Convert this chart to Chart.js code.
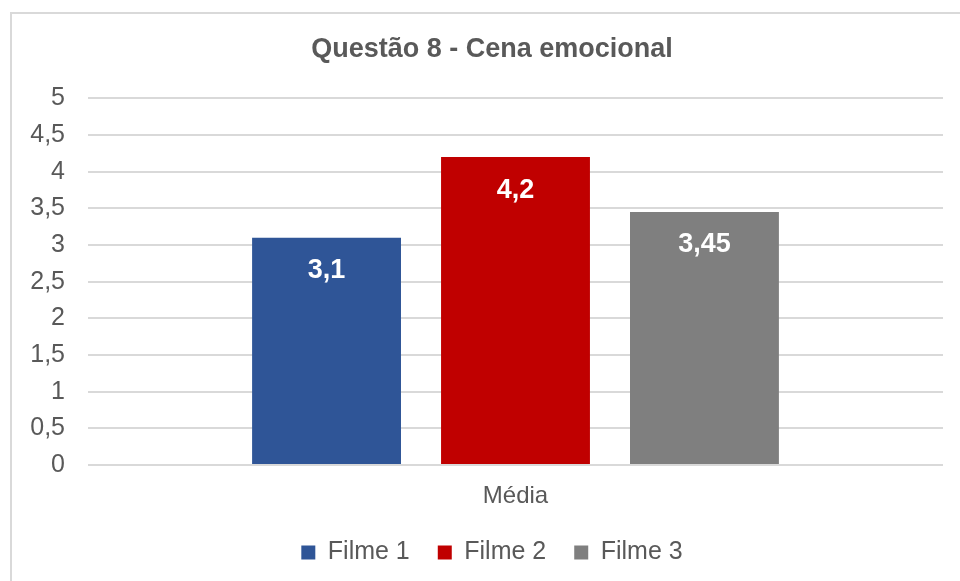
<!DOCTYPE html>
<html>
<head>
<meta charset="utf-8">
<script src="https://cdn.jsdelivr.net/npm/chart.js@4.4.1/dist/chart.umd.min.js"></script>
<style>
  html, body { margin: 0; padding: 0; background: #fff; }
  body { width: 960px; height: 581px; overflow: hidden; position: relative; }
  #frame { position: absolute; left: 10px; top: 12px; width: 960px; height: 580px;
           border-top: 2px solid #d9d9d9; border-left: 2px solid #d9d9d9; }
  #wrap { position: absolute; left: 12px; top: 14px; width: 960px; height: 567px; }
</style>
</head>
<body>
<div id="frame"></div>
<div id="wrap"><canvas id="chart"></canvas></div>
<script>
var categories = ['Média'];
var series_names = ['Filme 1', 'Filme 2', 'Filme 3'];
var series_values = [[3.1], [4.2], [3.45]];
var series_colors = ['#2f5597', '#c00000', '#7f7f7f'];

var text_color = '#595959';
var font_family = 'Arial, "Liberation Sans", sans-serif';

function fmt(v) {
    return String(v).replace('.', ',');
}

// value labels inside the top of each bar, and the category name under the plot
var barLabels = {
    id: 'barLabels',
    afterDatasetsDraw: function (chart) {
        var ctx = chart.ctx;
        ctx.save();
        ctx.fillStyle = '#ffffff';
        ctx.font = 'bold 27px ' + font_family;
        ctx.textAlign = 'center';
        ctx.textBaseline = 'middle';
        chart.data.datasets.forEach(function (ds, i) {
            var meta = chart.getDatasetMeta(i);
            meta.data.forEach(function (bar, j) {
                ctx.fillText(fmt(ds.data[j]), bar.x, bar.y + 33);
            });
        });
        var xs = chart.scales.x;
        ctx.fillStyle = text_color;
        ctx.font = '24px ' + font_family;
        chart.data.labels.forEach(function (lab, j) {
            ctx.fillText(lab, xs.getPixelForTick(j), chart.chartArea.bottom + 31);
        });
        ctx.restore();
    }
};

var datasets = [];
for (let i = 0; i < series_names.length; i++) {
    datasets.push({
        label: series_names[i],
        data: series_values[i],
        backgroundColor: series_colors[i],
        categoryPercentage: 0.663,
        barPercentage: 0.788
    });
}

new Chart(document.getElementById('chart'), {
    type: 'bar',
    data: {
        labels: categories,
        datasets: datasets
    },
    plugins: [barLabels],
    options: {
        responsive: true,
        maintainAspectRatio: false,
        animation: false,
        layout: {
            padding: { top: 0, right: 0, bottom: 6, left: 0 }
        },
        plugins: {
            title: {
                display: true,
                text: 'Questão 8 - Cena emocional',
                color: text_color,
                font: { family: font_family, size: 27, weight: 'bold' },
                padding: { top: 19, bottom: 33 }
            },
            legend: {
                position: 'bottom',
                labels: {
                    color: text_color,
                    font: { family: font_family, size: 25 },
                    boxWidth: 14,
                    boxHeight: 14,
                    padding: 28
                }
            },
            tooltip: { enabled: false }
        },
        scales: {
            x: {
                afterFit: function (scale) { scale.height = 47; },
                grid: { display: false, drawTicks: false },
                border: { display: false },
                ticks: { display: false }
            },
            y: {
                min: 0,
                max: 5,
                afterFit: function (scale) { scale.width = 76; },
                grid: { color: '#d9d9d9', lineWidth: 2, drawTicks: false },
                border: { display: false },
                ticks: {
                    stepSize: 0.5,
                    color: text_color,
                    font: { family: font_family, size: 25 },
                    padding: 23,
                    callback: function (v) { return fmt(v); }
                }
            },
            // empty right axis, only keeps the plot off the right edge
            y2: {
                position: 'right',
                afterFit: function (scale) { scale.width = 29; },
                grid: { display: false },
                border: { display: false },
                ticks: { display: false }
            }
        }
    }
});
</script>
</body>
</html>
